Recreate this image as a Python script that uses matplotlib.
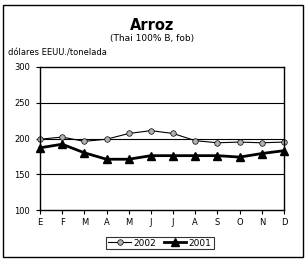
import matplotlib.pyplot as plt
from matplotlib.patches import Rectangle

months = ["E", "F", "M", "A", "M", "J", "J", "A", "S", "O", "N", "D"]
precio_2002 = [199, 202, 196, 199, 207, 211, 207, 197, 194, 195, 194, 195]
precio_2001 = [187, 192, 180, 171, 171, 176, 176, 176, 176, 174, 179, 183]
yticks = [100, 150, 200, 250, 300]

W, H = 305, 262
fig = plt.figure(figsize=(W / 100, H / 100), dpi=100)
fig.patch.set_facecolor("white")

# outer frame of the chart area
fig.add_artist(Rectangle((3 / W, 1 - 257 / H), 300 / W, 252 / H,
                         transform=fig.transFigure, fill=False, lw=1, ec="black"))

ax = fig.add_axes([40 / W, 1 - 210 / H, 244 / W, 143 / H])
x = list(range(len(months)))

ax.plot(x, precio_2002, color="black", lw=0.8, marker="o", ms=4,
        mfc="#b0b0b0", mec="black", mew=0.5, label="2002", clip_on=False)
ax.plot(x, precio_2001, color="black", lw=2, marker="^", ms=5.5,
        mfc="black", mec="black", label="2001", clip_on=False)

ax.set_xlim(0, 11)
ax.set_ylim(100, 300)
ax.set_yticks(yticks)
ax.set_yticklabels([str(v) for v in yticks], fontsize=6)
ax.set_xticks(x)
ax.set_xticklabels(months, fontsize=6)
ax.tick_params(axis="y", length=3, width=0.8, pad=4)
ax.tick_params(axis="x", length=3, width=0.8, pad=3, direction="out")
for v in yticks[1:-1]:
    ax.axhline(v, color="black", lw=0.8, zorder=0)
for s in ax.spines.values():
    s.set_linewidth(1)

fig.text(152 / W, 1 - 25 / H, "Arroz", ha="center", va="center",
         fontsize=10.5, fontweight="bold")
fig.text(152 / W, 1 - 38 / H, "(Thai 100% B, fob)", ha="center", va="center",
         fontsize=6.5)
fig.text(8 / W, 1 - 53 / H, "dólares EEUU./tonelada", ha="left", va="center",
         fontsize=6)

leg = fig.legend(loc="center", bbox_to_anchor=(160 / W, 1 - 243 / H),
                 ncol=2, fontsize=6.5, frameon=True, fancybox=False,
                 edgecolor="black", borderpad=0.2, handlelength=2.5,
                 columnspacing=0.8, handletextpad=0.3, borderaxespad=0)
leg.get_frame().set_linewidth(0.8)

fig.savefig("out.png", dpi=100)
